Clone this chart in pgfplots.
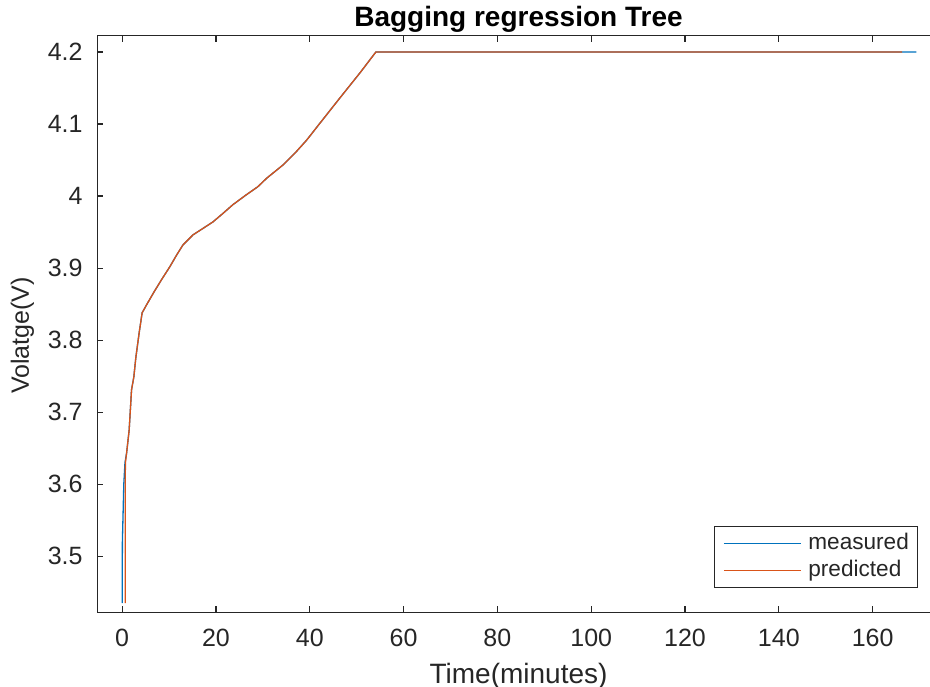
\documentclass[border=0pt]{standalone}
\usepackage{fontspec}
\setmainfont{Liberation Sans}
\usepackage{pgfplots}
\pgfplotsset{compat=1.18}
\definecolor{mblue}{rgb}{0,0.447,0.741}
\definecolor{morange}{rgb}{0.85,0.325,0.098}
\definecolor{axgray}{rgb}{0.15,0.15,0.15}

\begin{document}
\begin{tikzpicture}
\begin{axis}[
  scale only axis,
  width=421.2pt, height=288.3pt,
  xmin=-5.3, xmax=174.3,
  ymin=3.4223, ymax=4.2226,
  xtick={0,20,...,160},
  ytick={3.5,3.6,3.7,3.8,3.9,4,4.1,4.2},
  tick align=inside,
  major tick length=3pt,
  axis line style={axgray, line width=0.6pt},
  tick style={axgray, line width=0.6pt},
  every tick label/.append style={font=\fontsize{12.5}{14}\selectfont, text=axgray},
  /pgf/number format/assume math mode=true,
  xticklabel style={anchor=base, inner sep=0pt, yshift=-17.2pt},
  yticklabel style={anchor=east, inner sep=0pt, xshift=-7.15pt},
  title={\bfseries Bagging regression Tree},
  title style={font=\fontsize{14}{16}\selectfont, at={(axis description cs:0.5,1)},
    anchor=base, yshift=-1.2pt, inner sep=0pt, text=black},
  xlabel={Time(minutes)},
  xlabel style={font=\fontsize{14}{16}\selectfont, at={(axis description cs:0.5,0)},
    anchor=base, yshift=-35.35pt, inner sep=0pt, text=axgray},
  ylabel={Volatge(V)},
  ylabel style={font=\fontsize{12.5}{14}\selectfont, at={(axis description cs:-0.089,0.48)},
    anchor=center, inner sep=0pt, text=axgray},
  legend style={at={(0.9742,0.0421)}, anchor=south east, draw=axgray, line width=0.5pt,
    font=\fontsize{11.3}{13}\selectfont, text=axgray,
    inner xsep=4.3pt, inner ysep=3pt, row sep=2.5pt, column sep=3.5pt,
    nodes={inner sep=0pt, text height=8.5pt, text depth=2.5pt, anchor=base west}},
  legend cell align=left,
  legend image code/.code={\draw[#1, line width=0.6pt] (0pt,3pt) -- (38.5pt,3pt);},
]
\coordinate (bl) at (rel axis cs:0,0);

% measured voltage
\addplot[mblue, line width=0.65pt] coordinates {
  (0.0,3.435) (0.05,3.52) (0.2,3.560) (0.35,3.600) (0.6,3.630)
  (0.94,3.643) (1.49,3.675) (2.0,3.731) (2.49,3.749) (2.92,3.776)
  (3.62,3.810) (4.26,3.838) (5.2,3.849) (6.8,3.867) (8.4,3.884)
  (10.17,3.902) (11.6,3.918) (12.94,3.932) (15.07,3.946) (17.2,3.955)
  (19.33,3.964) (21.5,3.976) (23.6,3.988) (26.3,4.001) (28.93,4.013)
  (30.85,4.025) (34.26,4.043) (36.9,4.060) (39.38,4.078) (42.15,4.101)
  (46.4,4.136) (50.7,4.171) (54.1,4.200) (169.3,4.200)
};
\addlegendentry{measured}

% predicted voltage
\addplot[morange, line width=0.65pt] coordinates {
  (0.64,3.435) (0.64,3.600) (0.7,3.630)
  (0.94,3.643) (1.49,3.675) (2.0,3.731) (2.49,3.749) (2.92,3.776)
  (3.62,3.810) (4.26,3.838) (5.2,3.849) (6.8,3.867) (8.4,3.884)
  (10.17,3.902) (11.6,3.918) (12.94,3.932) (15.07,3.946) (17.2,3.955)
  (19.33,3.964) (21.5,3.976) (23.6,3.988) (26.3,4.001) (28.93,4.013)
  (30.85,4.025) (34.26,4.043) (36.9,4.060) (39.38,4.078) (42.15,4.101)
  (46.4,4.136) (50.7,4.171) (54.1,4.200) (166.3,4.200)
};
\addlegendentry{predicted}
\end{axis}
\pgfresetboundingbox
\path[use as bounding box] ([shift={(-48.65pt,-36.85pt)}]bl) rectangle ([shift={(416.35pt,306.15pt)}]bl);
\end{tikzpicture}
\end{document}
